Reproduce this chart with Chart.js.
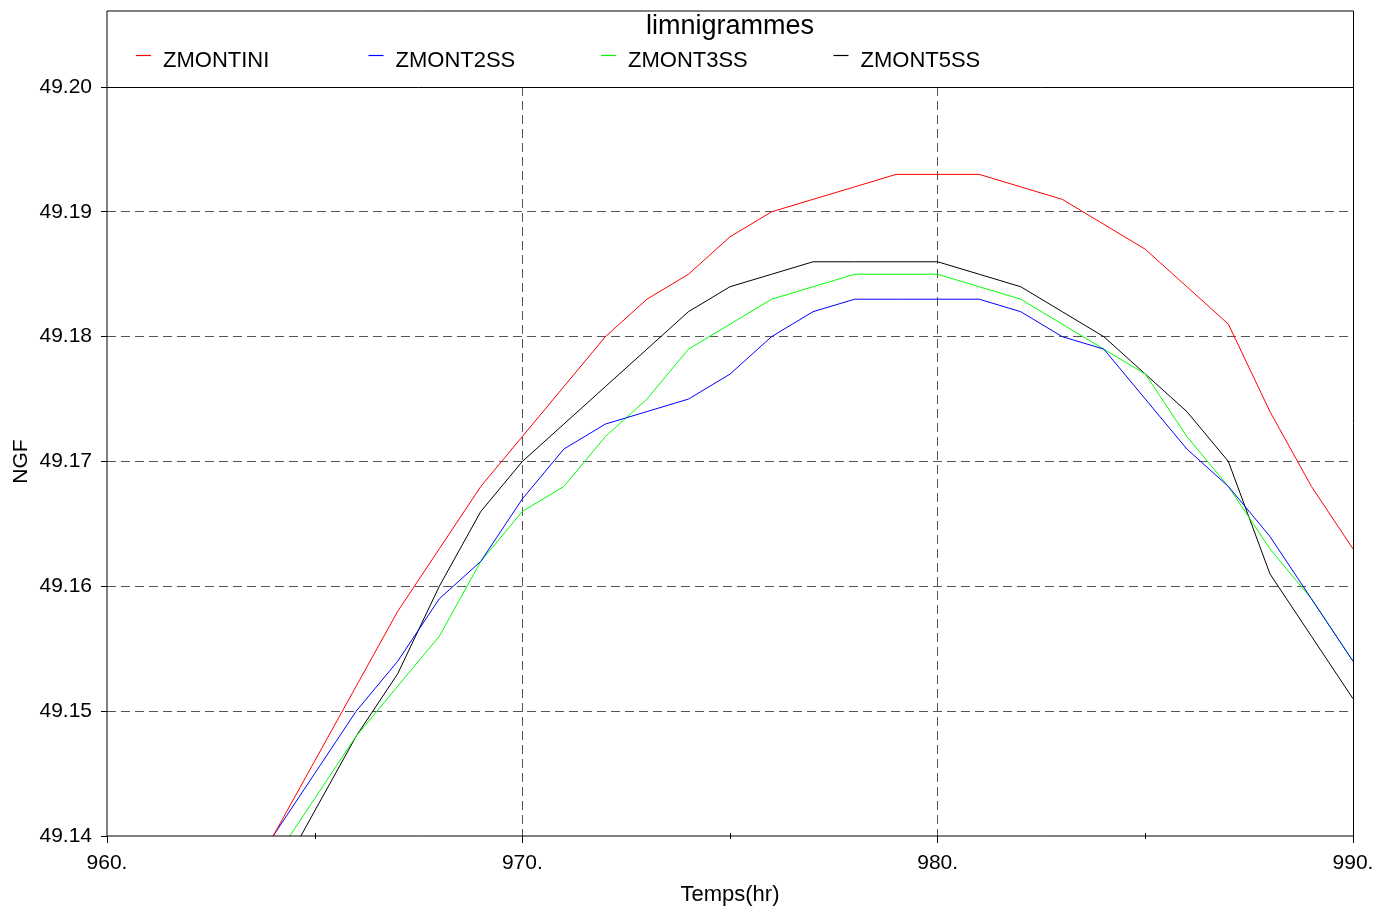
<!DOCTYPE html>
<html>
<head>
<meta charset="utf-8">
<title>limnigrammes</title>
<script src="https://cdn.jsdelivr.net/npm/chart.js@4.4.1/dist/chart.umd.min.js"></script>
<style>
  html, body { margin: 0; padding: 0; background: #fff; }
</style>
</head>
<body>
<canvas id="chart" width="1376" height="909"></canvas>
<script>
// hours (x) and water levels NGF (y)
const hours = [964, 965, 966, 967, 968, 969, 970, 971, 972, 973, 974, 975, 976, 977,
  978, 979, 980, 981, 982, 983, 984, 985, 986, 987, 988, 989, 990];

const zmontIni = [49.140, 49.146, 49.152, 49.158, 49.163, 49.168, 49.172, 49.176, 49.180,
  49.183, 49.185, 49.188, 49.190, 49.191, 49.192, 49.193, 49.193, 49.193, 49.192,
  49.191, 49.189, 49.187, 49.184, 49.181, 49.174, 49.168, 49.163];

const zmont2ss = [49.140, 49.145, 49.150, 49.154, 49.159, 49.162, 49.167, 49.171, 49.173,
  49.174, 49.175, 49.177, 49.180, 49.182, 49.183, 49.183, 49.183, 49.183, 49.182,
  49.180, 49.179, 49.175, 49.171, 49.168, 49.164, 49.159, 49.154];

const zmont3ss = [49.138, 49.143, 49.148, 49.152, 49.156, 49.162, 49.166, 49.168, 49.172,
  49.175, 49.179, 49.181, 49.183, 49.184, 49.185, 49.185, 49.185, 49.184, 49.183,
  49.181, 49.179, 49.177, 49.172, 49.168, 49.163, 49.159, 49.154];

const zmont5ss = [49.136, 49.142, 49.148, 49.153, 49.160, 49.166, 49.170, 49.173, 49.176,
  49.179, 49.182, 49.184, 49.185, 49.186, 49.186, 49.186, 49.186, 49.185, 49.184,
  49.182, 49.180, 49.177, 49.174, 49.170, 49.161, 49.156, 49.151];

const seriesNames = ['ZMONTINI', 'ZMONT2SS', 'ZMONT3SS', 'ZMONT5SS'];
const seriesColors = ['#ff0000', '#0000ff', '#00ff00', '#000000'];

const xMin = 960, xMax = 990, xStep = 10;
const minorXTicks = [965, 975, 985];
const yMin = 49.14, yMax = 49.20, yStep = 0.01;

const FONT = "'Liberation Sans', Arial, Helvetica, sans-serif";
Chart.defaults.font.family = FONT;
Chart.defaults.color = '#000';

function toPoints(values) {
  return values.map((v, i) => ({ x: hours[i], y: v }));
}

// frame around plot + title box, minor ticks, legend
const framePlugin = {
  id: 'framePlugin',
  afterDraw(chart) {
    const ctx = chart.ctx;
    const a = chart.chartArea;
    const xs = chart.scales.x;
    ctx.save();
    ctx.setLineDash([]);
    ctx.strokeStyle = '#000';
    ctx.lineWidth = 1;

    ctx.beginPath();
    ctx.moveTo(a.left, 11); ctx.lineTo(a.right + 0.5, 11);
    ctx.moveTo(a.left, 11); ctx.lineTo(a.left, a.bottom);
    ctx.moveTo(a.right + 0.5, 11); ctx.lineTo(a.right + 0.5, a.bottom);
    ctx.moveTo(a.left, a.top + 0.5); ctx.lineTo(a.right, a.top + 0.5);
    ctx.moveTo(a.left, a.bottom); ctx.lineTo(a.right, a.bottom);
    ctx.stroke();

    // small ticks crossing the x axis
    ctx.beginPath();
    minorXTicks.forEach(v => {
      const px = Math.round(xs.getPixelForValue(v)) + 0.5;
      ctx.moveTo(px, a.bottom - 3); ctx.lineTo(px, a.bottom + 3);
    });
    ctx.stroke();

    // legend row inside the title box
    ctx.font = '22px ' + FONT;
    ctx.textBaseline = 'middle';
    ctx.textAlign = 'left';
    seriesNames.forEach((name, i) => {
      const x0 = 136 + i * 232.5;
      ctx.strokeStyle = seriesColors[i];
      ctx.lineWidth = 1.2;
      ctx.beginPath();
      ctx.moveTo(x0, 55.5); ctx.lineTo(x0 + 15, 55.5);
      ctx.stroke();
      ctx.fillStyle = '#000';
      ctx.fillText(name, x0 + 27, 61);
    });
    ctx.restore();
  }
};

const series = [zmontIni, zmont2ss, zmont3ss, zmont5ss];

new Chart(document.getElementById('chart'), {
  type: 'line',
  data: {
    datasets: series.map((s, i) => ({
      label: seriesNames[i],
      data: toPoints(s),
      borderColor: seriesColors[i],
      backgroundColor: seriesColors[i],
      borderWidth: 1,
      pointRadius: 0,
      tension: 0,
      fill: false
    }))
  },
  options: {
    responsive: false,
    animation: false,
    devicePixelRatio: 1,
    layout: { padding: { left: 0, right: 23, top: 0, bottom: 0 } },
    plugins: {
      legend: { display: false },
      tooltip: { enabled: false },
      title: {
        display: true,
        text: 'limnigrammes',
        fullSize: false,
        color: '#000',
        font: { size: 27, weight: 'normal' },
        padding: { top: 10.8, bottom: 43.8 }
      }
    },
    scales: {
      x: {
        type: 'linear',
        min: xMin,
        max: xMax,
        afterFit: s => { s.height = 73; s.paddingLeft = 0; s.paddingRight = 0; },
        ticks: {
          stepSize: xStep,
          maxRotation: 0,
          padding: 8,
          color: '#000',
          font: { size: 21 },
          callback: v => v + '.'
        },
        grid: {
          color: c => (c.tick && c.tick.value > xMin && c.tick.value < xMax) ? '#555' : 'rgba(0,0,0,0)',
          lineWidth: 1,
          tickColor: '#000',
          tickLength: 7,
          tickBorderDash: []
        },
        border: { display: false, dash: [9, 5] },
        title: {
          display: true,
          text: 'Temps(hr)',
          color: '#000',
          font: { size: 22 },
          padding: { top: 4, bottom: 0.8 }
        }
      },
      y: {
        min: yMin,
        max: yMax,
        afterFit: s => { s.width = 107; },
        ticks: {
          stepSize: yStep,
          padding: 9,
          color: '#000',
          font: { size: 21 },
          callback: v => v.toFixed(2)
        },
        grid: {
          color: c => (c.tick && c.tick.value > yMin + 1e-9 && c.tick.value < yMax - 1e-9) ? '#555' : 'rgba(0,0,0,0)',
          lineWidth: 1,
          tickColor: '#000',
          tickLength: 6,
          tickBorderDash: []
        },
        border: { display: false, dash: [9, 5] },
        title: {
          display: true,
          text: 'NGF',
          color: '#000',
          font: { size: 21 },
          padding: { top: 8.4, bottom: 4 }
        }
      }
    }
  },
  plugins: [framePlugin]
});
</script>
</body>
</html>
